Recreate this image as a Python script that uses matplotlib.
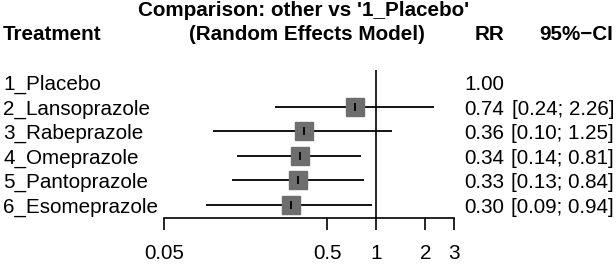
import matplotlib
matplotlib.use('Agg')
import matplotlib.pyplot as plt
import matplotlib.transforms as mtransforms
import numpy as np

# Data
treatments = ['1_Placebo', '2_Lansoprazole', '3_Rabeprazole', '4_Omeprazole',
              '5_Pantoprazole', '6_Esomeprazole']
rr = [1.00, 0.74, 0.36, 0.34, 0.33, 0.30]
lower = [np.nan, 0.24, 0.10, 0.14, 0.13, 0.09]
upper = [np.nan, 2.26, 1.25, 0.81, 0.84, 0.94]
xticks = [0.05, 0.5, 1, 2, 3]
xticklabels = ['0.05', '0.5', '1', '2', '3']

plt.rcParams['font.family'] = ['Liberation Sans', 'DejaVu Sans']
fs = 14.9

W, H = 616, 264
fig = plt.figure(figsize=(W / 100, H / 100), dpi=100)
ax = fig.add_axes([164 / W, 1 - 218 / H, (454 - 164) / W, (218 - 70) / H])
ax.set_xscale('log')
ax.set_xlim(0.05, 3)
ax.set_ylim(5.54, -0.5)

rows = np.arange(len(treatments))

# reference line at RR = 1
ax.axvline(1, color='black', lw=1.2)

for i in rows:
    if np.isnan(lower[i]):
        continue
    ax.plot([lower[i], upper[i]], [i, i], color='black', lw=1.3, solid_capstyle='butt')
    ax.plot(rr[i], i, marker='s', ms=13.5, color='#6e6e6e', mec='#6e6e6e')
    ax.plot(rr[i], i, marker='|', ms=6, mew=1.3, color='black')

for s in ['top', 'left', 'right']:
    ax.spines[s].set_visible(False)
ax.spines['bottom'].set_linewidth(1.2)
ax.set_yticks([])
ax.set_xticks(xticks)
ax.set_xticklabels(xticklabels, fontsize=fs)
ax.xaxis.set_minor_locator(matplotlib.ticker.NullLocator())
ax.tick_params(axis='x', length=8.5, width=1.2, pad=10.5)

# text columns, nudged a little below the row lines like the original
tr = mtransforms.blended_transform_factory(fig.transFigure, ax.transData)
tr = mtransforms.offset_copy(tr, fig=fig, y=-2.5, units='dots')
for i in rows:
    ax.text(3 / W, i, treatments[i], transform=tr, fontsize=fs, va='center', ha='left')
    ax.text(504 / W, i, f'{rr[i]:.2f}', transform=tr, fontsize=fs, va='center', ha='right')
    if not np.isnan(lower[i]):
        ax.text(614 / W, i, f'[{lower[i]:.2f}; {upper[i]:.2f}]', transform=tr,
                fontsize=fs, va='center', ha='right')

# headers
fig.text(304 / W, 1 - 11 / H, "Comparison: other vs '1_Placebo'", fontsize=fs,
         fontweight='bold', ha='center', va='center')
fig.text(307 / W, 1 - 34.5 / H, '(Random Effects Model)', fontsize=fs,
         fontweight='bold', ha='center', va='center')
fig.text(3 / W, 1 - 34.5 / H, 'Treatment', fontsize=fs, fontweight='bold', ha='left', va='center')
fig.text(504 / W, 1 - 34.5 / H, 'RR', fontsize=fs, fontweight='bold', ha='right', va='center')
fig.text(613 / W, 1 - 34.5 / H, '95%\u2212CI', fontsize=fs, fontweight='bold', ha='right', va='center')

fig.savefig('out.png', dpi=100)
